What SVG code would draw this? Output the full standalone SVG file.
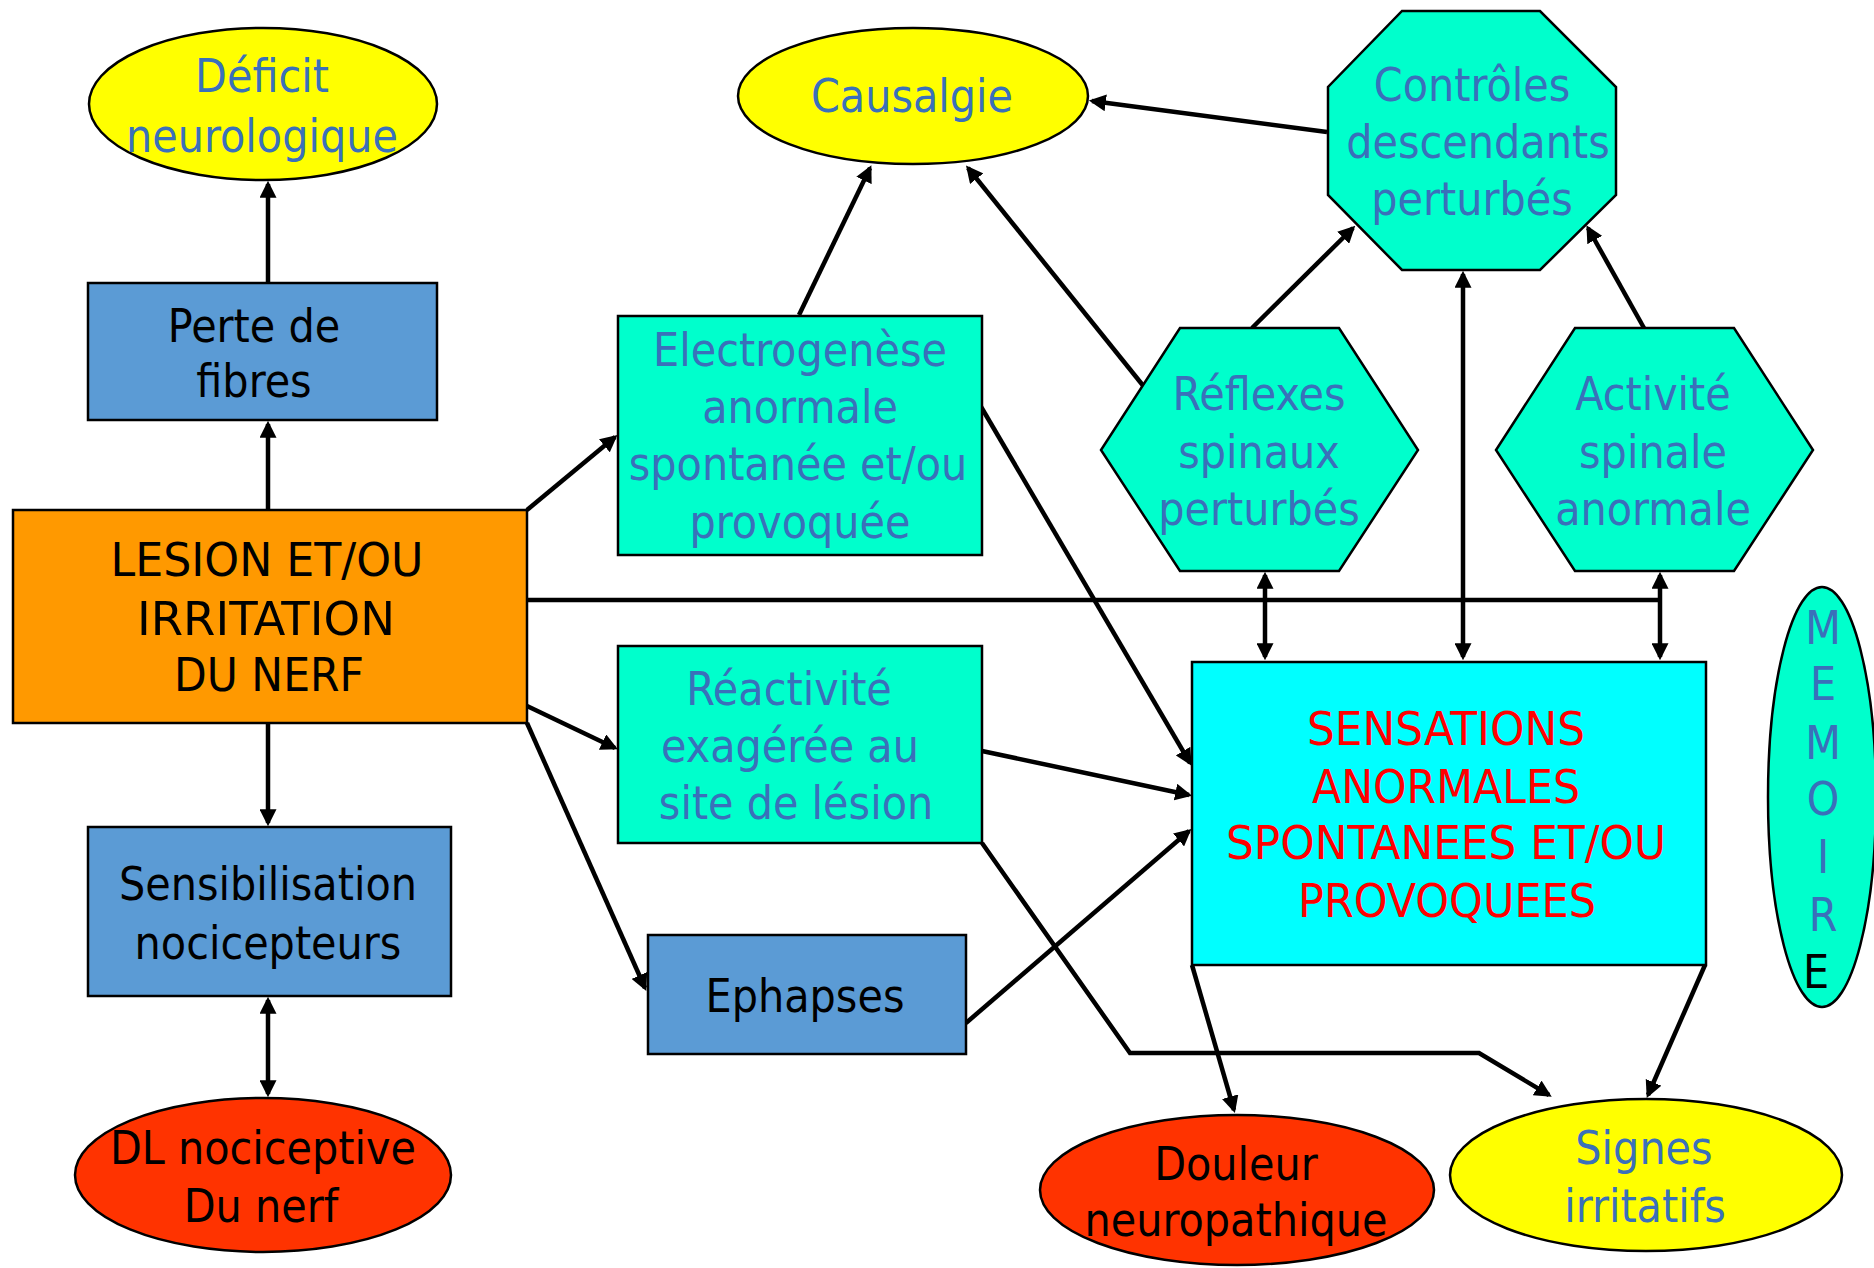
<svg xmlns="http://www.w3.org/2000/svg" width="1874" height="1268" viewBox="0 0 1874 1268">
<style>
  .t { font-family: "DejaVu Sans Condensed", "DejaVu Sans", sans-serif; font-stretch: condensed; font-size: 46px; text-anchor: middle; }
  .blue { fill: #3A70BA; }
  .black { fill: #000000; }
  .red { fill: #FF0000; }
  .shape { stroke: #000; stroke-width: 2.5; }
  .yellow { fill: #FFFF00; }
  .green { fill: #00FFCC; }
  .bluebox { fill: #5B9BD5; }
  .orange { fill: #FF9900; }
  .redell { fill: #FF3300; }
  .cyan { fill: #00FFFF; }
  .c { stroke: #000; stroke-width: 4.5; fill: none; }
  .a { marker-end: url(#ah); }
  .aa { marker-start: url(#ah); marker-end: url(#ah); }
</style>
<defs>
  <marker id="ah" viewBox="0 0 16 16" refX="13" refY="8" markerWidth="17" markerHeight="17" markerUnits="userSpaceOnUse" orient="auto-start-reverse">
    <path d="M0,0 L16,8 L0,16 z" fill="#000"/>
  </marker>
</defs>
<rect width="1874" height="1268" fill="#fff"/>

<g id="connectors">
  <line class="c a" x1="268" y1="510" x2="268" y2="424"/>
  <line class="c a" x1="268" y1="283" x2="268" y2="184"/>
  <line class="c a" x1="268" y1="723" x2="268" y2="823"/>
  <line class="c aa" x1="268" y1="1000" x2="268" y2="1094"/>
  <line class="c a" x1="527" y1="510" x2="615" y2="437"/>
  <line class="c a" x1="527" y1="706" x2="615" y2="748"/>
  <line class="c a" x1="527" y1="723" x2="645" y2="988"/>
  <line class="c" x1="527" y1="600" x2="1660" y2="600"/>
  <line class="c aa" x1="1265" y1="575" x2="1265" y2="657"/>
  <line class="c aa" x1="1660" y1="575" x2="1660" y2="657"/>
  <line class="c aa" x1="1463" y1="274" x2="1463" y2="657"/>
  <line class="c a" x1="799" y1="315" x2="870" y2="168"/>
  <line class="c a" x1="1145" y1="388" x2="968" y2="168"/>
  <line class="c a" x1="1327" y1="132" x2="1092" y2="101"/>
  <line class="c a" x1="1252" y1="328" x2="1353" y2="228"/>
  <line class="c a" x1="1644" y1="328" x2="1588" y2="228"/>
  <line class="c a" x1="980" y1="405" x2="1190" y2="763"/>
  <line class="c a" x1="982" y1="751" x2="1189" y2="795"/>
  <line class="c a" x1="966" y1="1023" x2="1189" y2="831"/>
  <polyline class="c a" points="982,843 1130,1053 1479,1053 1549,1095"/>
  <line class="c a" x1="1192" y1="965" x2="1234" y2="1110"/>
  <line class="c a" x1="1705" y1="965" x2="1648" y2="1095"/>
</g>

<g id="deficit">
  <ellipse class="shape yellow" cx="263" cy="104" rx="174" ry="76"/>
  <text class="t blue" x="262" y="92">Déficit</text>
  <text class="t blue" x="262" y="152">neurologique</text>
</g>

<g id="perte">
  <rect class="shape bluebox" x="88" y="283" width="349" height="137"/>
  <text class="t black" x="254" y="342">Perte de</text>
  <text class="t black" x="254" y="397">fibres</text>
</g>

<g id="lesion">
  <rect class="shape orange" x="13" y="510" width="514" height="213"/>
  <text class="t black" x="267" y="576" textLength="313" lengthAdjust="spacingAndGlyphs">LESION ET/OU</text>
  <text class="t black" x="266" y="635" textLength="258" lengthAdjust="spacingAndGlyphs">IRRITATION</text>
  <text class="t black" x="269" y="691" textLength="190" lengthAdjust="spacingAndGlyphs">DU NERF</text>
</g>

<g id="sensibilisation">
  <rect class="shape bluebox" x="88" y="827" width="363" height="169"/>
  <text class="t black" x="268" y="900">Sensibilisation</text>
  <text class="t black" x="268" y="959">nocicepteurs</text>
</g>

<g id="dl-nociceptive">
  <ellipse class="shape redell" cx="263" cy="1175" rx="188" ry="77"/>
  <text class="t black" x="263" y="1164">DL nociceptive</text>
  <text class="t black" x="261" y="1222">Du nerf</text>
</g>

<g id="causalgie">
  <ellipse class="shape yellow" cx="913" cy="96" rx="175" ry="68"/>
  <text class="t blue" x="912" y="112">Causalgie</text>
</g>

<g id="electrogenese">
  <rect class="shape green" x="618" y="316" width="364" height="239"/>
  <text class="t blue" x="800" y="366">Electrogenèse</text>
  <text class="t blue" x="800" y="423">anormale</text>
  <text class="t blue" x="798" y="480">spontanée et/ou</text>
  <text class="t blue" x="800" y="538">provoquée</text>
</g>

<g id="reactivite">
  <rect class="shape green" x="618" y="646" width="364" height="197"/>
  <text class="t blue" x="789" y="705">Réactivité</text>
  <text class="t blue" x="790" y="762">exagérée  au</text>
  <text class="t blue" x="796" y="819">site de lésion</text>
</g>

<g id="ephapses">
  <rect class="shape bluebox" x="648" y="935" width="318" height="119"/>
  <text class="t black" x="805" y="1012">Ephapses</text>
</g>

<g id="controles">
  <polygon class="shape green" points="1402,11 1540,11 1616,87 1616,195 1540,270 1402,270 1328,195 1328,87"/>
  <text class="t blue" x="1472" y="101">Contrôles</text>
  <text class="t blue" x="1478" y="158">descendants</text>
  <text class="t blue" x="1472" y="215">perturbés</text>
</g>

<g id="reflexes">
  <polygon class="shape green" points="1180,328 1339,328 1418,450 1339,571 1180,571 1101,450"/>
  <text class="t blue" x="1259" y="410">Réflexes</text>
  <text class="t blue" x="1259" y="468">spinaux</text>
  <text class="t blue" x="1259" y="525">perturbés</text>
</g>

<g id="activite">
  <polygon class="shape green" points="1575,328 1734,328 1813,450 1734,571 1575,571 1496,450"/>
  <text class="t blue" x="1653" y="410">Activité</text>
  <text class="t blue" x="1653" y="468">spinale</text>
  <text class="t blue" x="1653" y="525">anormale</text>
</g>

<g id="sensations">
  <rect class="shape cyan" x="1192" y="662" width="514" height="303"/>
  <text class="t red" x="1446" y="745" textLength="278" lengthAdjust="spacingAndGlyphs">SENSATIONS</text>
  <text class="t red" x="1446" y="803" textLength="268" lengthAdjust="spacingAndGlyphs">ANORMALES</text>
  <text class="t red" x="1446" y="859" textLength="440" lengthAdjust="spacingAndGlyphs">SPONTANEES ET/OU</text>
  <text class="t red" x="1447" y="917" textLength="298" lengthAdjust="spacingAndGlyphs">PROVOQUEES</text>
</g>

<g id="memoire">
  <ellipse class="shape green" cx="1822" cy="797" rx="54" ry="210"/>
  <text class="t blue" x="1823" y="644">M</text>
  <text class="t blue" x="1823" y="700">E</text>
  <text class="t blue" x="1823" y="759">M</text>
  <text class="t blue" x="1823" y="815">O</text>
  <text class="t blue" x="1823" y="873">I</text>
  <text class="t blue" x="1823" y="931">R</text>
  <text class="t black" x="1816" y="988">E</text>
</g>

<g id="douleur">
  <ellipse class="shape redell" cx="1237" cy="1190" rx="197" ry="75"/>
  <text class="t black" x="1236" y="1180">Douleur</text>
  <text class="t black" x="1236" y="1236">neuropathique</text>
</g>

<g id="signes">
  <ellipse class="shape yellow" cx="1646" cy="1175" rx="196" ry="76"/>
  <text class="t blue" x="1644" y="1164">Signes</text>
  <text class="t blue" x="1645" y="1222">irritatifs</text>
</g>
</svg>
